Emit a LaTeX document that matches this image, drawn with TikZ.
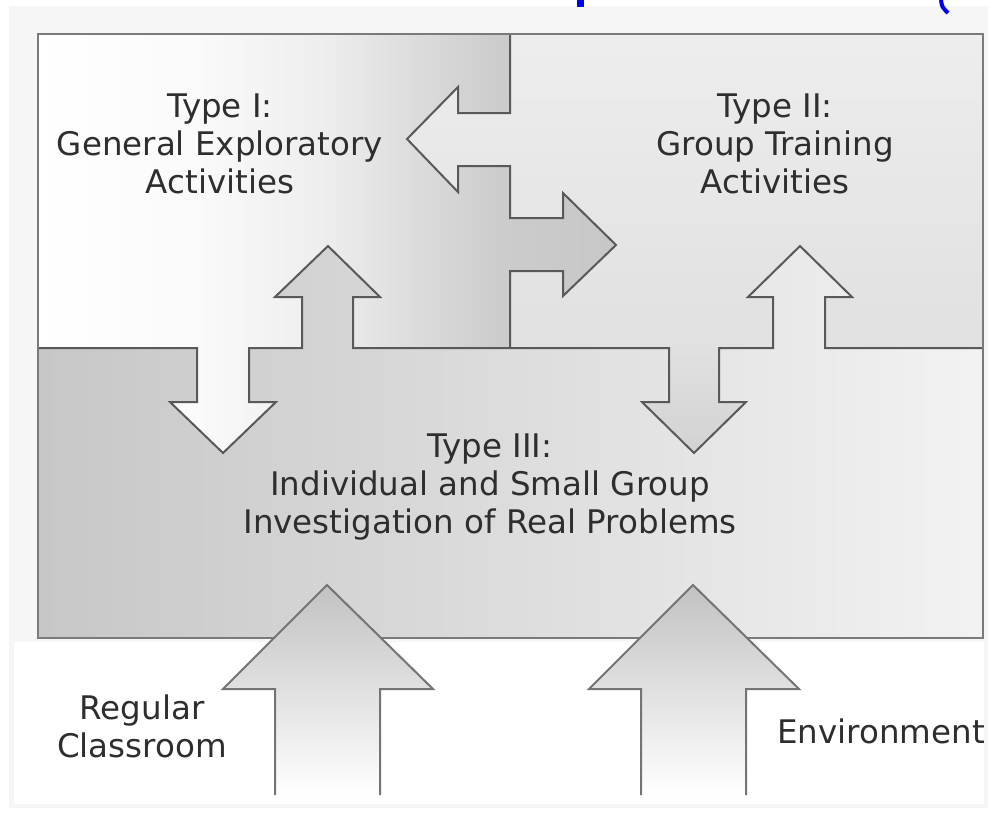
\documentclass[tikz,border=0pt]{standalone}
\usepackage{fontspec}
\setmainfont{DejaVu Sans}
\definecolor{txt}{HTML}{2E2E2E}
\definecolor{edge}{HTML}{595959}
\definecolor{frame}{HTML}{7A7A7A}
\definecolor{panel}{HTML}{F6F6F6}
\definecolor{linkblue}{HTML}{0000F0}
\pgfdeclarehorizontalshading{typeone}{100bp}{color(0bp)=(white); color(25bp)=(white); color(39bp)=(white!98!black); color(50bp)=(white!93!black); color(58bp)=(white!86!black); color(65bp)=(white!80!black); color(75bp)=(white!78!black); color(100bp)=(white!78!black)}
\pgfdeclareverticalshading{typetwo}{100bp}{color(0bp)=(white!82!black); color(25bp)=(white!82!black); color(38bp)=(white!88!black); color(75bp)=(white!93!black); color(100bp)=(white!93!black)}
\tikzset{
  label text/.style={font=\fontsize{32.5}{38}\selectfont, text=txt, align=center, inner sep=0pt, anchor=base},
  boundary/.style={draw=edge, line width=2pt, line join=miter},
  inarrowfill/.style={top color=white!76!black, bottom color=white},
  inarrowline/.style={draw=frame!95!black, line width=2pt},
}
\begin{document}
\begin{tikzpicture}[x=1pt,y=-1pt]
\useasboundingbox (0,0) rectangle (993,814);
\fill[white] (0,0) rectangle (993,814);
% page panel
\fill[panel] (9,6) rectangle (988,808);
\fill[white] (14,642) rectangle (984,804);
% blue fragments of cut text
\fill[linkblue] (577,0) rectangle (584,7);
\draw[linkblue, line width=4pt] (941,0) .. controls (942,7) .. (948,13);
% Type II region (background of top half)
\shade[shading=typetwo] (38,34) rectangle (983,460);
% Type I region
\shade[shading=typeone] (38,34) -- (510,34) -- (510,113) -- (458,113) -- (458,87) -- (407,139) -- (458,192) -- (458,166) -- (510,166) -- (510,218) -- (563,218) -- (563,193) -- (616,245) -- (563,296) -- (563,271) -- (510,271) -- (510,348) -- (249,348) -- (249,402) -- (276,402) -- (223,453) -- (170,402) -- (197,402) -- (197,348) -- (38,348) -- cycle;
% Type III region
\shade[left color=white!78!black, right color=white!95!black] (38,348) -- (197,348) -- (197,402) -- (170,402) -- (223,453) -- (276,402) -- (249,402) -- (249,348) -- (302,348) -- (302,297) -- (275,297) -- (328,246) -- (380,297) -- (353,297) -- (353,348) -- (669,348) -- (669,402) -- (642,402) -- (694,453) -- (746,402) -- (719,402) -- (719,348) -- (773,348) -- (773,297) -- (748,297) -- (800,246) -- (852,297) -- (825,297) -- (825,348) -- (983,348) -- (983,638) -- (38,638) -- cycle;
% boundaries
\draw[boundary] (510,34) -- (510,113) -- (458,113) -- (458,87) -- (407,139) -- (458,192) -- (458,166) -- (510,166) -- (510,218) -- (563,218) -- (563,193) -- (616,245) -- (563,296) -- (563,271) -- (510,271) -- (510,348);
\draw[boundary] (38,348) -- (197,348) -- (197,402) -- (170,402) -- (223,453) -- (276,402) -- (249,402) -- (249,348) -- (302,348) -- (302,297) -- (275,297) -- (328,246) -- (380,297) -- (353,297) -- (353,348) -- (669,348) -- (669,402) -- (642,402) -- (694,453) -- (746,402) -- (719,402) -- (719,348) -- (773,348) -- (773,297) -- (748,297) -- (800,246) -- (852,297) -- (825,297) -- (825,348) -- (983,348);
% outer frame
\draw[frame, line width=2.5pt] (38,34) rectangle (983,638);
% input arrows
\shade[inarrowfill] (275,795) -- (275,689) -- (223,689) -- (327,585) -- (433,689) -- (380,689) -- (380,795) -- cycle;
\draw[inarrowline] (275,795) -- (275,689) -- (223,689) -- (327,585) -- (433,689) -- (380,689) -- (380,795);
\shade[inarrowfill] (641,795) -- (641,689) -- (589,689) -- (693,585) -- (799,689) -- (746,689) -- (746,795) -- cycle;
\draw[inarrowline] (641,795) -- (641,689) -- (589,689) -- (693,585) -- (799,689) -- (746,689) -- (746,795);
% labels
\node[label text] (t1) at (220,193) {Type I:\\General Exploratory\\Activities};
\node[label text] (t2) at (775,193) {Type II:\\Group Training\\Activities};
\node[label text] (t3) at (490,533) {Type III:\\Individual and Small Group\\Investigation of Real Problems};
\node[label text] (t4) at (142,757) {Regular\\Classroom};
\node[label text] (t5) at (881,743) {Environment};
\end{tikzpicture}
\end{document}
